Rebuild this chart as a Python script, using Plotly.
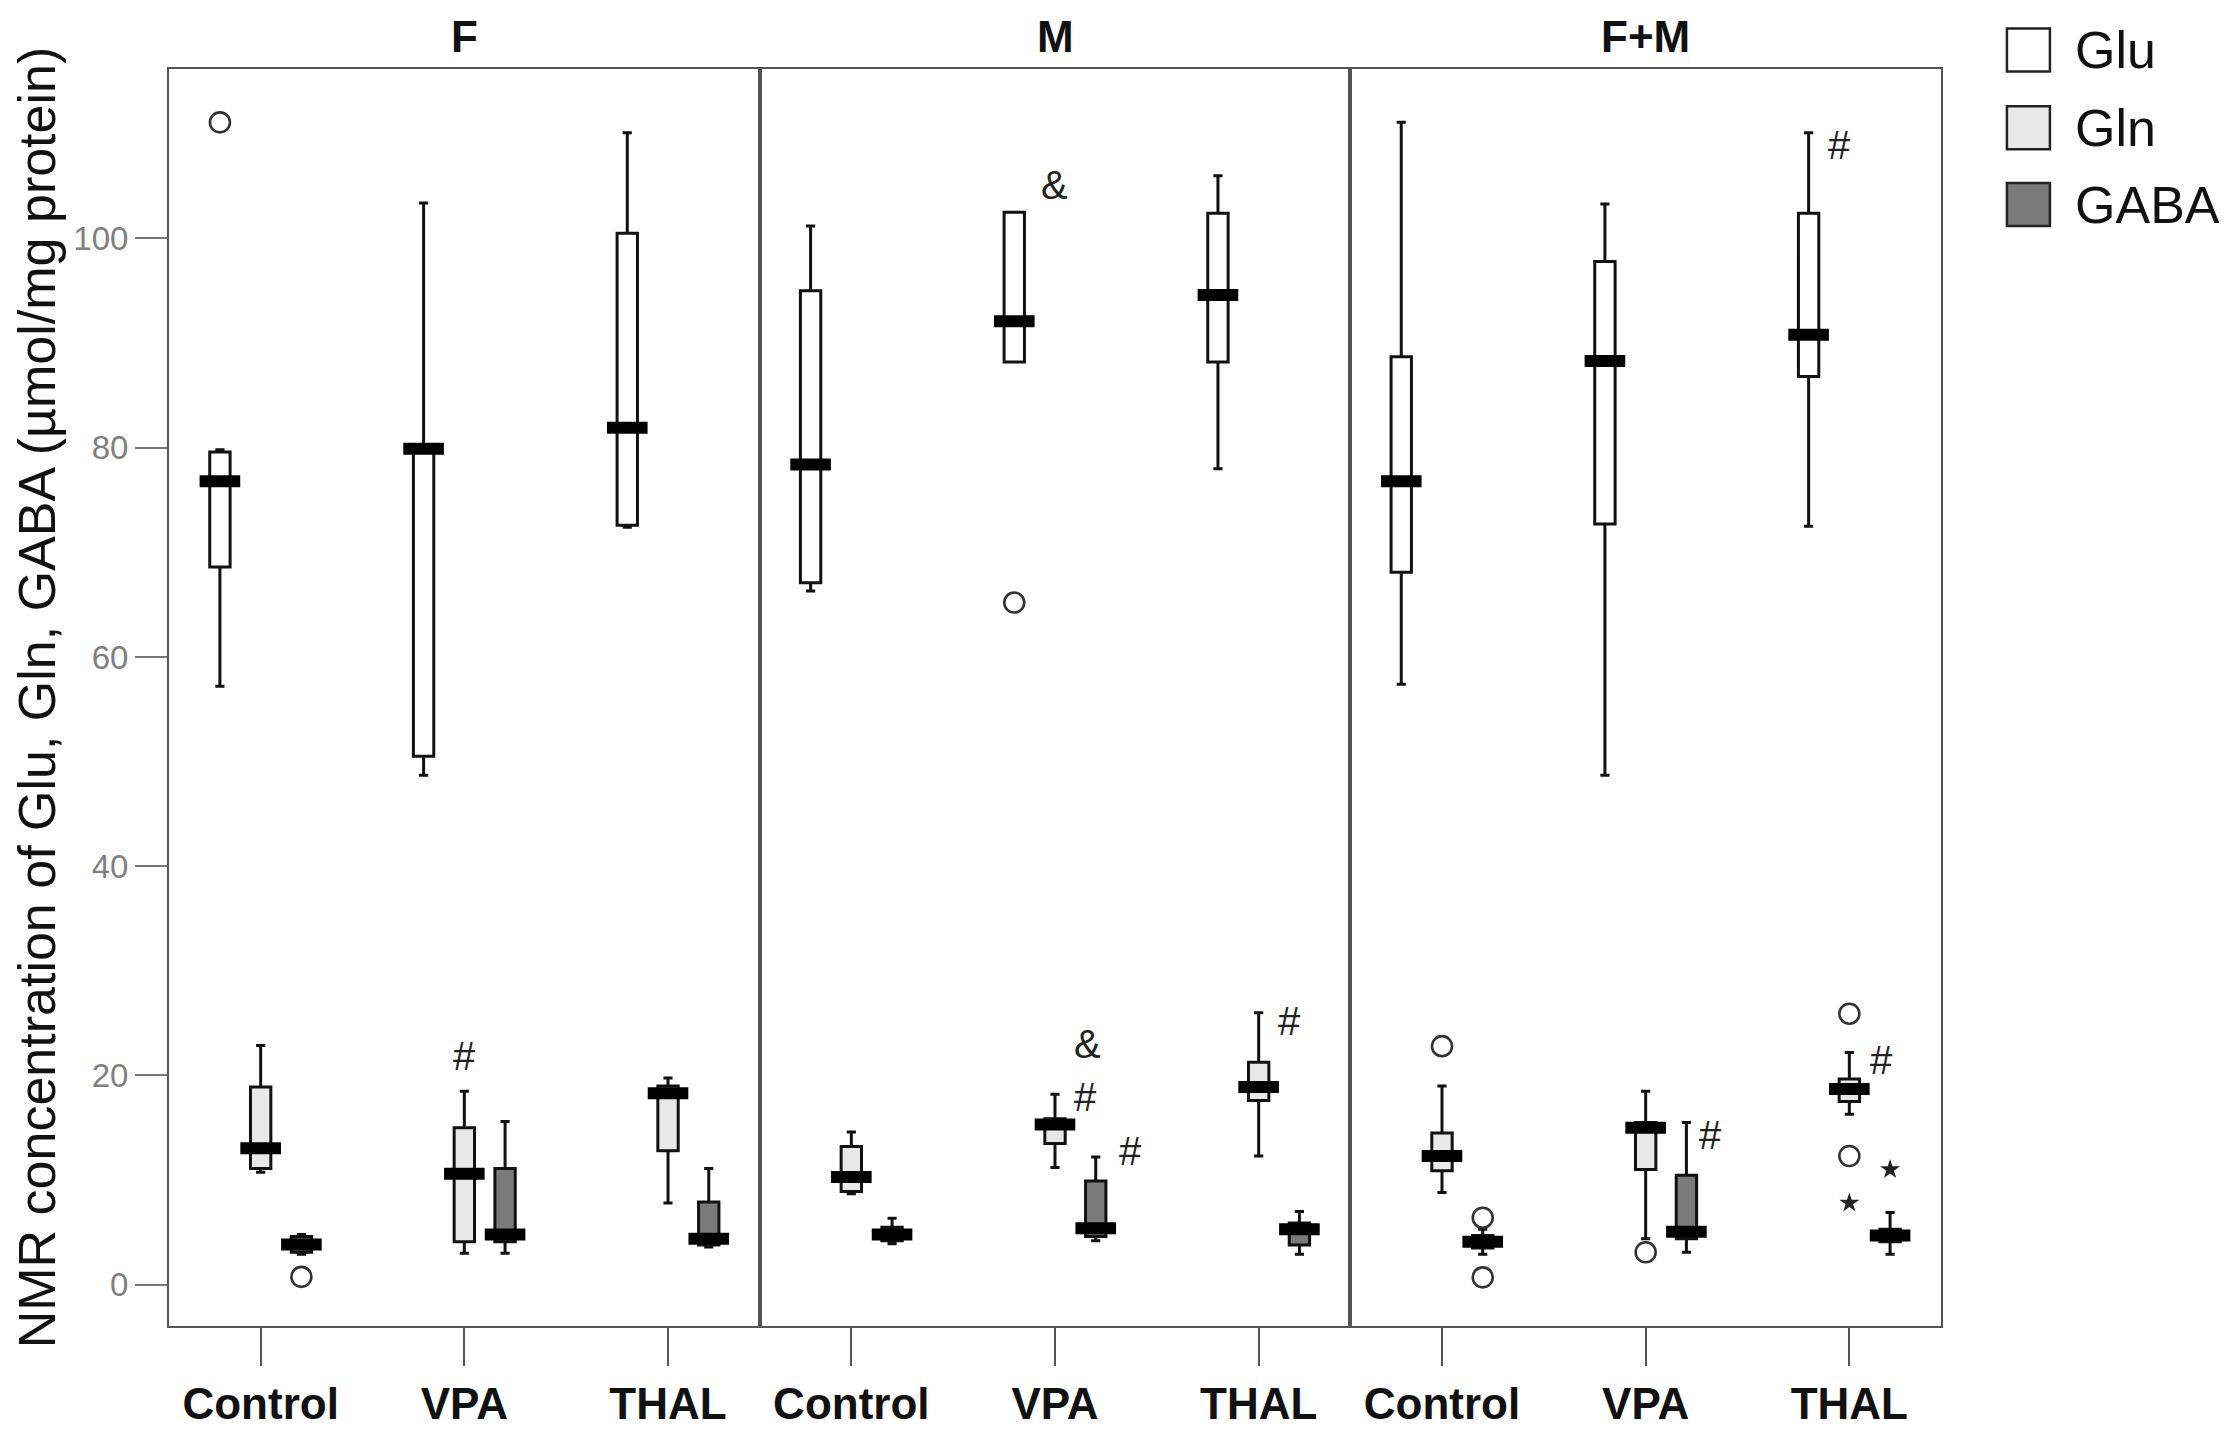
import plotly.graph_objects as go
from plotly.subplots import make_subplots

PANELS = ["F", "M", "F+M"]
GROUPS = ["Control", "VPA", "THAL"]
COMPOUNDS = ["Glu", "Gln", "GABA"]

# box stats per group (Control, VPA, THAL): [lower whisker, q1, median, q3, upper whisker]
F_GLU = [[57.2, 68.6, 76.8, 79.6, 79.8], [48.7, 50.5, 79.9, 80.1, 103.4], [72.4, 72.6, 81.9, 100.5, 110.1]]
F_GLN = [[10.75, 11.1, 13.05, 18.9, 22.85], [3.0, 4.1, 10.6, 15.0, 18.5], [7.8, 12.8, 18.3, 19.0, 19.75]]
F_GABA = [[2.9, 3.1, 3.85, 4.6, 4.8], [3.0, 4.1, 4.8, 11.1, 15.6], [3.6, 3.8, 4.4, 7.9, 11.1]]

M_GLU = [[66.3, 67.1, 78.4, 95.0, 101.2], [88.2, 88.2, 92.1, 102.5, 102.5], [78.0, 88.2, 94.6, 102.4, 106.0]]
M_GLN = [[8.7, 8.9, 10.3, 13.2, 14.6], [11.2, 13.5, 15.3, 15.85, 18.2], [12.3, 17.6, 18.9, 21.25, 26.0]]
M_GABA = [[3.9, 4.2, 4.8, 5.5, 6.35], [4.2, 4.6, 5.4, 9.9, 12.2], [2.9, 3.8, 5.3, 5.9, 7.0]]

FM_GLU = [[57.4, 68.1, 76.8, 88.7, 111.1], [48.7, 72.7, 88.3, 97.8, 103.3], [72.5, 86.8, 90.8, 102.4, 110.1]]
FM_GLN = [[8.8, 10.9, 12.3, 14.5, 19.0], [4.4, 11.0, 15.0, 15.5, 18.5], [16.3, 17.5, 18.7, 19.65, 22.2]]
FM_GABA = [[2.9, 3.5, 4.1, 4.7, 5.3], [3.1, 4.4, 5.05, 10.45, 15.5], [2.9, 4.1, 4.7, 5.3, 6.9]]

# (panel, group, compound, value)
OUTLIERS = [
    ("F", "Control", "Glu", 111.1),
    ("F", "Control", "GABA", 0.75),
    ("M", "VPA", "Glu", 65.2),
    ("F+M", "Control", "Gln", 22.8),
    ("F+M", "Control", "GABA", 6.4),
    ("F+M", "Control", "GABA", 0.7),
    ("F+M", "VPA", "Gln", 3.1),
    ("F+M", "THAL", "Gln", 25.9),
    ("F+M", "THAL", "Gln", 12.3),
]
EXTREMES = [
    ("F+M", "THAL", "Gln", 7.8),
    ("F+M", "THAL", "GABA", 11.0),
]

# significance marks: (panel, group, x offset from group centre, y, text)
SIG_MARKS = [
    ("F", "VPA", 0.0, 21.9, "#"),
    ("M", "VPA", 0.0, 105.1, "&"),
    ("M", "VPA", 0.16, 23.0, "&"),
    ("M", "VPA", 0.15, 17.9, "#"),
    ("M", "VPA", 0.37, 12.8, "#"),
    ("M", "THAL", 0.15, 25.2, "#"),
    ("F+M", "THAL", -0.05, 108.9, "#"),
    ("F+M", "VPA", 0.32, 14.3, "#"),
    ("F+M", "THAL", 0.16, 21.5, "#"),
]

YTICKS = [0, 20, 40, 60, 80, 100]

STATS = {
    ("F", "Glu"): F_GLU, ("F", "Gln"): F_GLN, ("F", "GABA"): F_GABA,
    ("M", "Glu"): M_GLU, ("M", "Gln"): M_GLN, ("M", "GABA"): M_GABA,
    ("F+M", "Glu"): FM_GLU, ("F+M", "Gln"): FM_GLN, ("F+M", "GABA"): FM_GABA,
}

OFFSET = {"Glu": -0.2, "Gln": 0.0, "GABA": 0.2}
FILL = {"Glu": "#ffffff", "Gln": "#e8e8e8", "GABA": "#7a7a7a"}
FONT = "Liberation Sans, Arial, sans-serif"
FRAME = "#555555"

fig = make_subplots(
    rows=1,
    cols=3,
    shared_yaxes=True,
    horizontal_spacing=0,
    subplot_titles=PANELS,
)

for c, panel in enumerate(PANELS, start=1):
    for comp in COMPOUNDS:
        s = STATS[(panel, comp)]
        xs = [i + OFFSET[comp] for i in range(len(GROUPS))]

        fig.add_trace(
            go.Box(
                x=xs,
                lowerfence=[r[0] for r in s],
                q1=[r[1] for r in s],
                median=[r[2] for r in s],
                q3=[r[3] for r in s],
                upperfence=[r[4] for r in s],
                width=0.1,
                whiskerwidth=0.45,
                fillcolor=FILL[comp],
                line=dict(color="#111111", width=3),
                name=comp,
                showlegend=False,
                hoverinfo="skip",
            ),
            row=1,
            col=c,
        )

        # thick SPSS style median bar
        fig.add_trace(
            go.Scatter(
                x=xs,
                y=[r[2] for r in s],
                mode="markers",
                marker=dict(symbol="line-ew", size=29, line=dict(color="black", width=12)),
                showlegend=False,
                hoverinfo="skip",
            ),
            row=1,
            col=c,
        )

    out = [o for o in OUTLIERS if o[0] == panel]
    if out:
        fig.add_trace(
            go.Scatter(
                x=[GROUPS.index(o[1]) + OFFSET[o[2]] for o in out],
                y=[o[3] for o in out],
                mode="markers",
                marker=dict(symbol="circle-open", size=20, color="#333333", line=dict(width=2.6)),
                showlegend=False,
                hoverinfo="skip",
            ),
            row=1,
            col=c,
        )

    ext = [e for e in EXTREMES if e[0] == panel]
    if ext:
        fig.add_trace(
            go.Scatter(
                x=[GROUPS.index(e[1]) + OFFSET[e[2]] for e in ext],
                y=[e[3] for e in ext],
                mode="markers",
                marker=dict(symbol="star", size=15, color="#222222"),
                showlegend=False,
                hoverinfo="skip",
            ),
            row=1,
            col=c,
        )

    for p, g, dx, y, txt in SIG_MARKS:
        if p != panel:
            continue
        fig.add_annotation(
            x=GROUPS.index(g) + dx,
            y=y,
            text=txt,
            showarrow=False,
            font=dict(family=FONT, size=40, color="#222222"),
            row=1,
            col=c,
        )

    fig.update_xaxes(
        range=[-0.45, 2.45],
        tickvals=list(range(len(GROUPS))),
        ticktext=GROUPS,
        ticks="outside",
        ticklen=38,
        tickwidth=2,
        tickcolor=FRAME,
        tickfont=dict(family=FONT, size=44, color="#111111", weight="bold"),
        showline=True,
        mirror=True,
        linecolor=FRAME,
        linewidth=2,
        showgrid=False,
        zeroline=False,
        row=1,
        col=c,
    )

fig.update_yaxes(
    range=[-3.95, 116.2],
    showline=True,
    mirror=True,
    linecolor=FRAME,
    linewidth=2,
    showgrid=False,
    zeroline=False,
)
fig.update_yaxes(
    tickvals=YTICKS,
    ticks="outside",
    ticklen=32,
    tickwidth=2,
    tickcolor="#777777",
    tickfont=dict(family=FONT, size=33, color="#808080"),
    title=dict(
        text="NMR concentration of Glu, Gln, GABA (µmol/mg protein)",
        font=dict(family=FONT, size=52, color="#111111"),
        standoff=16,
    ),
    row=1,
    col=1,
)
fig.update_yaxes(showticklabels=False, ticks="", row=1, col=2)
fig.update_yaxes(showticklabels=False, ticks="", row=1, col=3)

# panel titles
for ann in fig.layout.annotations[: len(PANELS)]:
    ann.font = dict(family=FONT, size=44, color="#111111", weight="bold")
    ann.yshift = 6

# legend drawn by hand so the swatches can be large like the original
LEGEND_Y = [1.0151, 0.9532, 0.8922]
for comp, ly in zip(COMPOUNDS, LEGEND_Y):
    fig.add_shape(
        type="rect",
        xref="paper",
        yref="paper",
        xsizemode="pixel",
        ysizemode="pixel",
        xanchor=1.0372,
        yanchor=ly,
        x0=0,
        x1=43,
        y0=-21.5,
        y1=21.5,
        fillcolor=FILL[comp],
        line=dict(color="#222222", width=2.5),
    )
    fig.add_annotation(
        xref="paper",
        yref="paper",
        x=1.0372,
        y=ly,
        xshift=66,
        xanchor="left",
        yanchor="middle",
        text=comp,
        showarrow=False,
        font=dict(family=FONT, size=52, color="#111111"),
    )

# the page adds an 8px body margin, so the plot area is shifted back by that
fig.update_layout(
    width=2233,
    height=1432,
    margin=dict(l=161, r=300, t=61, b=109),
    paper_bgcolor="white",
    plot_bgcolor="white",
    font=dict(family=FONT, color="#111111"),
    showlegend=False,
    boxmode="overlay",
)

fig.write_html("out.html")
